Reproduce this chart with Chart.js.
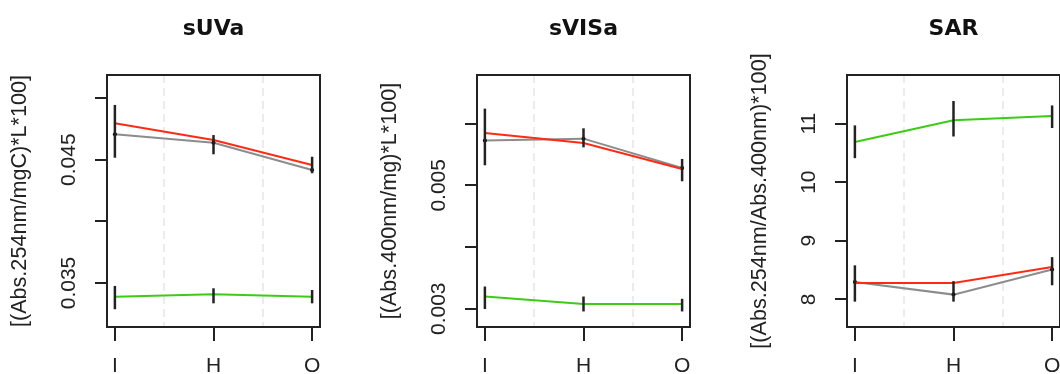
<!DOCTYPE html>
<html>
<head>
<meta charset="utf-8">
<script src="https://cdn.jsdelivr.net/npm/chart.js@4"></script>
<style>
  body { margin: 0; background: #fff; width: 1060px; height: 374px; overflow: hidden; position: relative; }
  canvas { position: absolute; top: 0; }
</style>
</head>
<body>
<canvas id="suva" width="370" height="374" style="left:0px"></canvas>
<canvas id="svisa" width="370" height="374" style="left:370px"></canvas>
<canvas id="sar" width="370" height="374" style="left:740px"></canvas>
<script>
let categories = ['I', 'H', 'O'];
let xPositions = [1, 2, 3];
let gridPositions = [1.5, 2.5];

// sUVa
let suvaRed = [0.04795, 0.04660, 0.04457];
let suvaGray = [0.04706, 0.04638, 0.04416];
let suvaGreen = [0.03389, 0.03408, 0.03389];
let suvaErrLow = [0.04516, 0.04544, 0.04390];
let suvaErrHigh = [0.04944, 0.04700, 0.04524];
let suvaGreenErrLow = [0.03287, 0.03335, 0.03335];
let suvaGreenErrHigh = [0.03476, 0.03457, 0.03443];
let suvaTicks = [0.035, 0.040, 0.045, 0.050];
let suvaTickLabels = ['0.035', '', '0.045', ''];

// sVISa
let svisaRed = [0.005848, 0.005686, 0.005265];
let svisaGray = [0.005724, 0.005756, 0.005280];
let svisaGreen = [0.003198, 0.003076, 0.003076];
let svisaErrLow = [0.005324, 0.005615, 0.005065];
let svisaErrHigh = [0.006242, 0.005923, 0.005427];
let svisaGreenErrLow = [0.002995, 0.002956, 0.002956];
let svisaGreenErrHigh = [0.003360, 0.003198, 0.003161];
let svisaTicks = [0.003, 0.004, 0.005, 0.006];
let svisaTickLabels = ['0.003', '', '0.005', ''];

// SAR
let sarRed = [8.278, 8.278, 8.55];
let sarGray = [8.295, 8.08, 8.51];
let sarGreen = [10.686, 11.056, 11.13];
let sarErrLow = [7.96, 7.96, 8.24];
let sarErrHigh = [8.58, 8.31, 8.72];
let sarGreenErrLow = [10.41, 10.78, 10.925];
let sarGreenErrHigh = [10.97, 11.386, 11.31];
let sarTicks = [8, 9, 10, 11];
let sarTickLabels = ['8', '9', '10', '11'];

const ink = '#222222';
const textFont = 'Liberation Sans, Arial, sans-serif';

function toPoints(values) {
  return values.map((v, i) => ({ x: xPositions[i], y: v }));
}

const boxPlugin = {
  id: 'box',
  beforeDatasetsDraw(chart) {
    const a = chart.chartArea;
    const ctx = chart.ctx;
    ctx.save();
    ctx.strokeStyle = ink;
    ctx.lineWidth = 2;
    ctx.strokeRect(a.left, a.top, a.right - a.left, a.bottom - a.top);
    ctx.restore();
  }
};

const errorBarPlugin = {
  id: 'errorBars',
  afterDatasetsDraw(chart, args, options) {
    const ctx = chart.ctx;
    const xs = chart.scales.x;
    const ys = chart.scales.y;
    ctx.save();
    ctx.strokeStyle = ink;
    ctx.lineWidth = 2.5;
    for (let b = 0; b < options.bars.length; b++) {
      const bar = options.bars[b];
      for (let i = 0; i < xPositions.length; i++) {
        const px = xs.getPixelForValue(xPositions[i]);
        ctx.beginPath();
        ctx.moveTo(px, ys.getPixelForValue(bar.low[i]));
        ctx.lineTo(px, ys.getPixelForValue(bar.high[i]));
        ctx.stroke();
      }
    }
    ctx.restore();
  }
};

const yLabelPlugin = {
  id: 'yLabels',
  afterDraw(chart, args, options) {
    const ctx = chart.ctx;
    const ys = chart.scales.y;
    ctx.save();
    ctx.fillStyle = ink;
    ctx.font = `21px ${textFont}`;
    ctx.textAlign = 'center';
    ctx.textBaseline = 'middle';
    for (let i = 0; i < options.ticks.length; i++) {
      if (!options.labels[i]) continue;
      ctx.save();
      ctx.translate(options.x, ys.getPixelForValue(options.ticks[i]));
      ctx.rotate(-Math.PI / 2);
      ctx.fillText(options.labels[i], 0, 0);
      ctx.restore();
    }
    ctx.restore();
  }
};

function renderPanel(id, title, yTitle, red, gray, green, bars, yMin, yMax, ticks, tickLabels) {
  new Chart(document.getElementById(id), {
    type: 'line',
    data: {
      datasets: [
        { data: toPoints(red), borderColor: '#ff2a14', borderWidth: 2, pointRadius: 0, tension: 0 },
        { data: toPoints(gray), borderColor: '#8c8c8c', borderWidth: 2, pointRadius: 2,
          pointBackgroundColor: '#000', pointBorderWidth: 0, tension: 0 },
        { data: toPoints(green), borderColor: '#3ccc14', borderWidth: 2, pointRadius: 0, tension: 0 }
      ]
    },
    options: {
      responsive: false,
      animation: false,
      layout: { padding: { left: 0, right: 50, top: 0, bottom: 0 } },
      scales: {
        x: {
          type: 'linear',
          min: 0.92,
          max: 3.08,
          afterBuildTicks: s => { s.ticks = xPositions.map(v => ({ value: v })); },
          afterFit: s => { s.height = 47; },
          ticks: {
            callback: v => categories[xPositions.indexOf(v)],
            font: { family: textFont, size: 21 },
            color: ink,
            padding: 13,
            maxRotation: 0,
            autoSkip: false
          },
          grid: { drawOnChartArea: false, tickLength: 14, color: ink, lineWidth: 2 },
          border: { display: false }
        },
        xg: {
          type: 'linear',
          position: 'top',
          min: 0.92,
          max: 3.08,
          z: 1,
          afterBuildTicks: s => { s.ticks = gridPositions.map(v => ({ value: v })); },
          afterFit: s => { s.height = 0; },
          ticks: { display: false },
          grid: { color: '#ececec', lineWidth: 2, drawTicks: false },
          border: { display: false, dash: [8, 5] }
        },
        y: {
          type: 'linear',
          min: yMin,
          max: yMax,
          afterBuildTicks: s => { s.ticks = ticks.map(v => ({ value: v })); },
          afterFit: s => { s.width = 107; },
          ticks: { display: false },
          grid: { drawOnChartArea: false, tickLength: 12, color: ink, lineWidth: 2 },
          border: { display: false },
          title: {
            display: true,
            text: yTitle,
            font: { family: textFont, size: 21.6 },
            color: ink,
            padding: { top: 7, bottom: 0 }
          }
        }
      },
      plugins: {
        legend: { display: false },
        tooltip: { enabled: false },
        title: {
          display: true,
          text: title,
          fullSize: false,
          font: { family: 'DejaVu Sans, sans-serif', size: 22, weight: 'bold' },
          color: '#111',
          padding: { top: 16, bottom: 32.6 }
        },
        errorBars: { bars: bars },
        yLabels: { ticks: ticks, labels: tickLabels, x: 69.5 }
      }
    },
    plugins: [boxPlugin, errorBarPlugin, yLabelPlugin]
  });
}

function init() {
  renderPanel('suva', 'sUVa', '[(Abs.254nm/mgC)*L*100]', suvaRed, suvaGray, suvaGreen,
    [{ low: suvaErrLow, high: suvaErrHigh }, { low: suvaGreenErrLow, high: suvaGreenErrHigh }],
    0.03143, 0.05187, suvaTicks, suvaTickLabels);
  renderPanel('svisa', 'sVISa', '[(Abs.400nm/mg)*L*100]', svisaRed, svisaGray, svisaGreen,
    [{ low: svisaErrLow, high: svisaErrHigh }, { low: svisaGreenErrLow, high: svisaGreenErrHigh }],
    0.002704, 0.006787, svisaTicks, svisaTickLabels);
  renderPanel('sar', 'SAR', '[(Abs.254nm/Abs.400nm)*100]', sarRed, sarGray, sarGreen,
    [{ low: sarErrLow, high: sarErrHigh }, { low: sarGreenErrLow, high: sarGreenErrHigh }],
    7.527, 11.83, sarTicks, sarTickLabels);
}

init();
</script>
</body>
</html>
